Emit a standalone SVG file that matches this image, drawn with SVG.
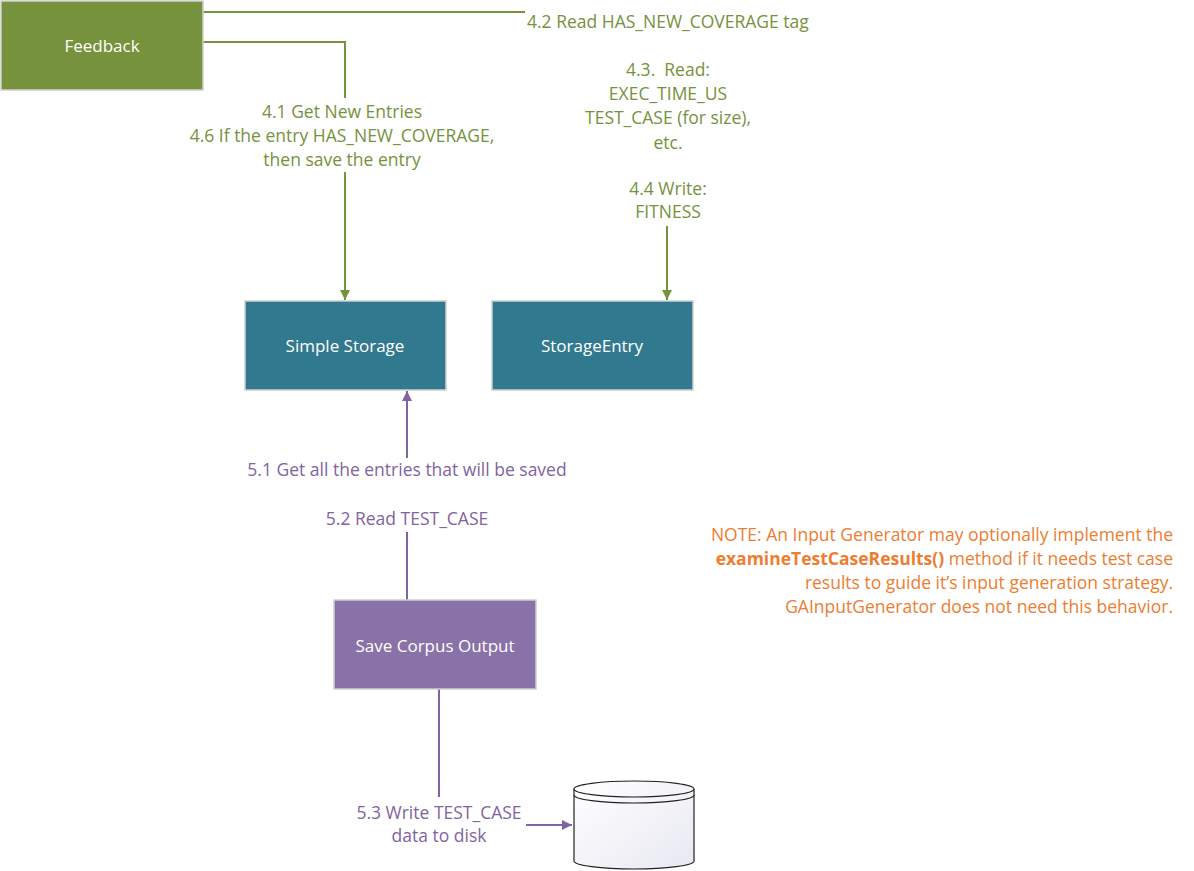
<svg xmlns="http://www.w3.org/2000/svg" width="1194" height="871" viewBox="0 0 1194 871">
<defs>
<style>
text{font-family:"Open Sans","Liberation Sans",Arial,sans-serif;font-size:17.5px}
.box{stroke:#d0d0d0;stroke-width:1.5}
.wt{fill:#fff;text-anchor:middle;dominant-baseline:central;font-size:17px}
.g{fill:#76923c;text-anchor:middle}
.p{fill:#8064a2;text-anchor:middle}
.o{fill:#ed7d31;text-anchor:end}
.gl{stroke:#76923c;stroke-width:2;fill:none}
.pl{stroke:#8064a2;stroke-width:2;fill:none}
</style>
<marker id="ag" viewBox="0 0 10 10" refX="10" refY="5" markerWidth="5" markerHeight="5" orient="auto" markerUnits="strokeWidth"><path d="M0,0L10,5L0,10z" fill="#76923c"/></marker>
<marker id="ap" viewBox="0 0 10 10" refX="10" refY="5" markerWidth="5" markerHeight="5" orient="auto" markerUnits="strokeWidth"><path d="M0,0L10,5L0,10z" fill="#8064a2"/></marker>
<linearGradient id="cyl" x1="0" y1="0" x2="1" y2="1"><stop offset="0" stop-color="#ffffff"/><stop offset="1" stop-color="#e8e8f2"/></linearGradient>
</defs>
<g id="connectors">
<path class="gl" d="M203,12H525"/>
<path class="gl" d="M203,42H345V98"/>
<path class="gl" d="M345,172V300" marker-end="url(#ag)"/>
<path class="gl" d="M667,226V300" marker-end="url(#ag)"/>
<path class="pl" d="M407,458V391" marker-end="url(#ap)"/>
<path class="pl" d="M407,532V600"/>
<path class="pl" d="M439,689V797"/>
<path class="pl" d="M526,825H572" marker-end="url(#ap)"/>
</g>
<g id="labels">
<text class="g" x="527" y="28" style="text-anchor:start">4.2 Read HAS_NEW_COVERAGE tag</text>
<text class="g" x="342" y="118">4.1 Get New Entries</text>
<text class="g" x="342" y="142">4.6 If the entry HAS_NEW_COVERAGE,</text>
<text class="g" x="342" y="166">then save the entry</text>
<text class="g" x="668" y="76">4.3.&#160; Read:</text>
<text class="g" x="668" y="100">EXEC_TIME_US</text>
<text class="g" x="668" y="124">TEST_CASE (for size),</text>
<text class="g" x="668" y="149">etc.</text>
<text class="g" x="668" y="195">4.4 Write:</text>
<text class="g" x="668" y="218">FITNESS</text>
<text class="p" x="407" y="476">5.1 Get all the entries that will be saved</text>
<text class="p" x="407" y="525">5.2 Read TEST_CASE</text>
<text class="p" x="439" y="819">5.3 Write TEST_CASE</text>
<text class="p" x="439" y="842">data to disk</text>
</g>
<g id="note">
<text class="o" x="1173" y="541">NOTE: An Input Generator may optionally implement the</text>
<text class="o" x="1173" y="565"><tspan font-weight="bold">examineTestCaseResults()</tspan> method if it needs test case</text>
<text class="o" x="1173" y="589">results to guide it’s input generation strategy.</text>
<text class="o" x="1173" y="613">GAInputGenerator does not need this behavior.</text>
</g>
<g id="feedback">
<rect class="box" x="1" y="1" width="202" height="89" fill="#76923c"/>
<text class="wt" x="102" y="45">Feedback</text>
</g>
<g id="simple-storage">
<rect class="box" x="245" y="301" width="201" height="89" fill="#31798f"/>
<text class="wt" x="345" y="345">Simple Storage</text>
</g>
<g id="storage-entry">
<rect class="box" x="492" y="301" width="201" height="89" fill="#31798f"/>
<text class="wt" x="592" y="345">StorageEntry</text>
</g>
<g id="save-corpus-output">
<rect class="box" x="334" y="600" width="202" height="89" fill="#8872a8"/>
<text class="wt" x="435" y="645">Save Corpus Output</text>
</g>
<g id="disk">
<path d="M574,789V861A60,8 0 0 0 694,861V789A60,8 0 0 0 574,789Z" fill="url(#cyl)" stroke="#222" stroke-width="1.2"/>
<path d="M574,789A60,8 0 0 0 694,789" fill="none" stroke="#222" stroke-width="1.2"/>
<path d="M574,795A60,8 0 0 0 694,795" fill="none" stroke="#222" stroke-width="1.2"/>
</g>
</svg>
